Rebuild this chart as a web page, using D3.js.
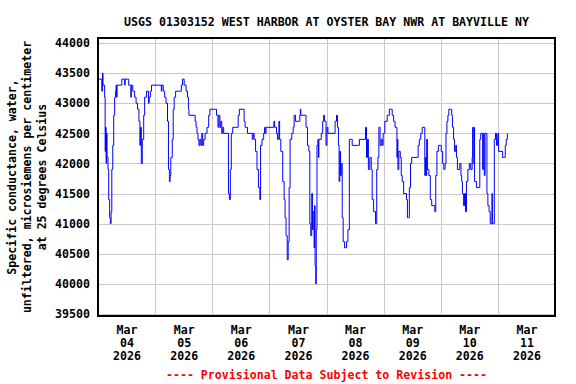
<!DOCTYPE html>
<meta charset="utf-8">
<style>
  body { margin: 0; background: #fff; }
  svg { display: block; }
  text {
    font-family: "DejaVu Sans Mono", monospace;
    font-weight: bold;
    font-size: 11.6px;
    fill: #000;
  }
  .grid line { stroke: #c8c8c8; shape-rendering: crispEdges; }
  .grid path { display: none; }
  .axis path, .axis line { display: none; }
  .frame { fill: none; stroke: #000; stroke-width: 1.5; shape-rendering: crispEdges; }
  .series { fill: none; stroke: #0000ff; stroke-width: 1; }
  .note { fill: #ff0000; }
</style>
<body>
<script src="https://d3js.org/d3.v7.min.js"></script>
<script>

var title = "USGS 01303152 WEST HARBOR AT OYSTER BAY NWR AT BAYVILLE NY";
var yLabel = ["Specific conductance, water,",
              "unfiltered, microsiemens per centimeter",
              "at 25 degrees Celsius"];
var note = "---- Provisional Data Subject to Revision ----";

var yTicks = [39500, 40000, 40500, 41000, 41500, 42000, 42500, 43000, 43500, 44000];
var tickDays = ["2026-03-04", "2026-03-05", "2026-03-06", "2026-03-07",
                "2026-03-08", "2026-03-09", "2026-03-10", "2026-03-11"];
var startDay = "2026-03-04";
var endDay = "2026-03-12";

// hours since Mar 04 00:00, and specific conductance (uS/cm)
var hours = [
  0, 1.4, 1.6, 1.9, 2.1, 2.6, 2.8, 3.0, 3.2, 3.4,
  3.6, 3.8, 4.2, 4.5, 4.9, 5.2, 5.5, 5.8, 6.2, 6.6,
  7.0, 7.4, 7.6, 7.8, 8.0, 9.8, 10.0, 11.0, 11.2, 11.4,
  12.7, 12.9, 13.6, 13.8, 14.0, 14.6, 15.4, 16.0, 16.6, 17.2,
  17.6, 17.9, 18.2, 18.6, 19.2, 19.6, 20.4, 21.2, 21.5, 22.0,
  22.5, 26.6, 26.8, 27.4, 28.0, 28.6, 29.2, 29.6, 30.0, 30.3,
  30.6, 31.2, 31.6, 32.0, 32.6, 34.6, 35.0, 35.5, 36.2, 37.0,
  37.6, 38.0, 38.2, 40.4, 40.8, 41.2, 41.6, 42.0, 42.4, 42.8,
  43.2, 43.6, 44.0, 44.4, 45.0, 45.8, 46.5, 47.0, 49.4, 49.8,
  50.4, 50.8, 51.2, 51.6, 52.0, 52.4, 52.8, 54.6, 54.8, 55.2,
  55.6, 56.0, 56.6, 58.6, 58.9, 59.4, 61.0, 61.4, 61.8, 62.8,
  64.6, 64.8, 65.2, 65.6, 66.2, 66.8, 67.4, 68.0, 68.3, 68.9,
  69.6, 70.0, 70.2, 70.6, 73.6, 73.9, 74.2, 75.0, 75.4, 76.0,
  76.3, 76.8, 77.6, 78.2, 78.6, 79.0, 79.5, 79.9, 80.3, 80.7,
  81.4, 82.0, 82.4, 83.0, 84.6, 84.8, 85.0, 85.2, 87.2, 87.4,
  88.0, 88.6, 89.0, 89.4, 89.8, 90.1, 90.4, 90.8, 91.0, 91.2,
  91.5, 91.7, 92.0, 92.4, 92.6, 92.8, 93.8, 94.4, 94.8, 95.2,
  95.8, 96.2, 96.6, 99.2, 99.6, 100.2, 100.6, 101.0, 101.3, 101.6,
  101.9, 102.2, 102.6, 103.0, 103.6, 104.4, 105.0, 105.6, 106.6, 106.8,
  109.6, 109.8, 112.2, 112.4, 112.8, 113.2, 113.6, 114.2, 114.8, 115.2,
  115.8, 116.6, 117.1, 117.6, 118.0, 118.5, 119.0, 119.4, 119.8, 120.5,
  121.5, 122.4, 123.2, 123.6, 124.2, 124.8, 125.4, 125.6, 125.8, 126.0,
  126.4, 127.0, 127.4, 127.8, 128.4, 129.6, 130.0, 130.4, 130.8, 131.3,
  131.8, 134.2, 134.5, 135.0, 135.6, 136.2, 137.1, 137.3, 137.6, 137.9,
  138.1, 138.4, 139.0, 139.6, 140.2, 141.2, 141.5, 141.9, 142.4, 143.0,
  143.8, 144.2, 144.8, 145.3, 145.8, 146.2, 146.6, 147.0, 147.4, 148.2,
  148.6, 148.9, 149.4, 149.8, 150.3, 150.6, 151.0, 151.8, 152.0, 152.5,
  152.8, 153.1, 153.6, 154.0, 154.4, 154.8, 155.4, 156.0, 156.6, 157.2,
  157.4, 157.6, 158.0, 158.2, 159.0, 160.2, 160.4, 160.8, 161.4, 161.6,
  161.9, 162.3, 162.6, 163.2, 163.4, 163.8, 164.3, 164.8, 165.4, 165.5,
  165.7, 166.3, 166.5, 167.0, 167.4, 167.8, 168.0, 168.3, 169.8, 170.0,
  170.8, 171.1, 171.5, 172.0
];
var values = [
  43400, 43400, 43200, 43500, 43300, 43300, 43100, 42200, 42600, 42000,
  42500, 42100, 41900, 41400, 41100, 41000, 41200, 41900, 42300, 42800,
  43100, 43200, 43300, 43100, 43300, 43300, 43400, 43400, 43300, 43400,
  43400, 43300, 43300, 43100, 43300, 43200, 43100, 43000, 42900, 42700,
  42300, 42600, 42000, 42400, 42800, 43100, 43200, 43000, 43100, 43200,
  43300, 43200, 43300, 43200, 43100, 43000, 42700, 41900, 41700, 41800,
  42100, 42400, 42900, 43100, 43200, 43200, 43300, 43400, 43300, 43200,
  43100, 42900, 42800, 42800, 42700, 42600, 42500, 42400, 42300, 42400,
  42300, 42500, 42300, 42400, 42500, 42600, 42800, 42900, 42900, 42800,
  42600, 42800, 42600, 42700, 42500, 42600, 42500, 42500, 41500, 41400,
  41900, 42500, 42600, 42600, 42800, 42900, 42900, 42700, 42600, 42500,
  42500, 42400, 42500, 42400, 42200, 41900, 41600, 41400, 42300, 42400,
  42500, 42600, 42500, 42600, 42600, 42700, 42600, 42500, 42400, 42700,
  42400, 42200, 41700, 41400, 41100, 40800, 40400, 40700, 41600, 42400,
  42500, 42600, 42800, 42700, 42700, 42800, 42900, 42800, 42800, 42600,
  42300, 42200, 41000, 40800, 41500, 40900, 41200, 40600, 41300, 40300,
  40000, 40900, 42300, 42400, 42100, 42400, 42500, 42700, 42800, 42700,
  42300, 42600, 42500, 42500, 42700, 42800, 42600, 42300, 41700, 42200,
  41800, 42000, 41100, 40700, 40600, 40700, 40900, 42400, 42400, 42300,
  42300, 42400, 42400, 42600, 42100, 42400, 41900, 42100, 41900, 41400,
  41200, 41000, 41900, 42100, 42600, 42300, 42400, 42300, 42500, 42700,
  42800, 42900, 42900, 42800, 42700, 42600, 42600, 42100, 42400, 41900,
  42200, 42100, 41800, 41700, 41500, 41400, 41100, 41100, 41600, 42000,
  42100, 42100, 42300, 42400, 42500, 42600, 42600, 41800, 42100, 41800,
  42400, 41900, 41800, 41400, 41300, 41300, 41200, 41800, 42200, 42300,
  42300, 42200, 42000, 41900, 42000, 42500, 42700, 42800, 42900, 42900,
  42800, 42600, 42400, 42200, 42300, 42100, 41900, 41900, 42000, 41800,
  41700, 41500, 41300, 41500, 41200, 41700, 41900, 42000, 41900, 42100,
  42600, 42000, 42600, 41700, 41600, 41600, 42400, 42500, 42500, 41900,
  42500, 41800, 42500, 42500, 41500, 41300, 41200, 41000, 41000, 41500,
  41000, 41000, 42400, 42500, 42300, 42400, 42500, 42200, 42200, 42100,
  42100, 42300, 42400, 42500
];

var margin = {top: 38, right: 21, bottom: 68, left: 98},
    width = 576 - margin.left - margin.right,
    height = 384 - margin.top - margin.bottom;

var parseDay = d3.utcParse("%Y-%m-%d");
var t0 = parseDay(startDay);

var data = hours.map(function(h, i) {
  return {date: new Date(t0.getTime() + h * 3600e3), value: values[i]};
});

var x = d3.scaleUtc()
    .domain([t0, parseDay(endDay)])
    .range([0, width]);

var y = d3.scaleLinear()
    .domain([39500, 44000])
    .range([height - 2, 5]);

var svg = d3.select("body").append("svg")
    .attr("width", 576)
    .attr("height", 384);

var g = svg.append("g")
    .attr("transform", "translate(" + margin.left + "," + margin.top + ")");

// grid
g.append("g")
    .attr("class", "grid")
    .call(d3.axisLeft(y).tickValues(yTicks).tickSize(-width).tickFormat(""));

g.append("g")
    .attr("class", "grid")
    .attr("transform", "translate(0," + height + ")")
    .call(d3.axisBottom(x)
      .tickValues(d3.utcDay.range(d3.utcDay.offset(t0, 1), parseDay(endDay)))
      .tickSize(-height).tickFormat(""));

// axes labels
g.append("g")
    .attr("class", "axis")
    .call(d3.axisLeft(y).tickValues(yTicks).tickSize(0).tickPadding(8).tickFormat(d3.format("d")));

var noon = tickDays.map(function(d) { return d3.utcHour.offset(parseDay(d), 12); });

var xAxis = g.append("g")
    .attr("class", "axis")
    .attr("transform", "translate(0," + height + ")")
    .call(d3.axisBottom(x).tickValues(noon).tickSize(0).tickFormat(""));

xAxis.selectAll(".tick text").each(function(d) {
  var t = d3.select(this).attr("y", 0).attr("dy", null);
  [d3.utcFormat("%b")(d), d3.utcFormat("%d")(d), d3.utcFormat("%Y")(d)].forEach(function(s, i) {
    t.append("tspan").attr("x", 0).attr("y", 18 + i * 13).text(s);
  });
});

// data
g.append("clipPath").attr("id", "clip")
  .append("rect").attr("width", width).attr("height", height);

var line = d3.line()
    .x(function(d) { return x(d.date); })
    .y(function(d) { return y(d.value); })
    .curve(d3.curveStepAfter);

g.append("path")
    .datum(data)
    .attr("class", "series")
    .attr("clip-path", "url(#clip)")
    .attr("d", line);

g.append("rect")
    .attr("class", "frame")
    .attr("width", width)
    .attr("height", height);

// titles
svg.append("text")
    .attr("x", margin.left + width / 2)
    .attr("y", 26)
    .attr("text-anchor", "middle")
    .text(title);

var yl = svg.append("text")
    .attr("transform", "translate(0," + (margin.top + height / 2) + ") rotate(-90)")
    .attr("text-anchor", "middle");
yLabel.forEach(function(s, i) {
  yl.append("tspan").attr("x", 0).attr("y", 16 + i * 15).text(s);
});

svg.append("text")
    .attr("class", "note")
    .attr("x", margin.left + width / 2)
    .attr("y", 379)
    .attr("text-anchor", "middle")
    .text(note);

</script>
